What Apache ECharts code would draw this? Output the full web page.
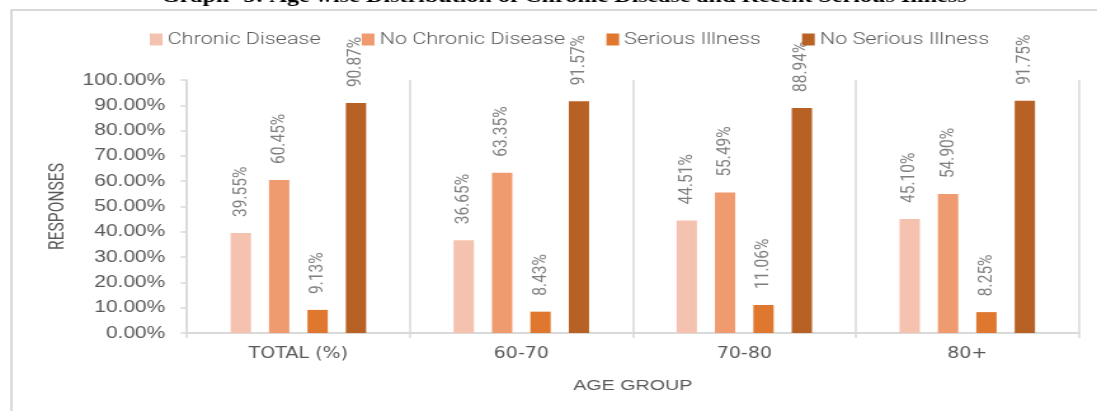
<!DOCTYPE html>
<html>
<head>
<meta charset="utf-8">
<script src="https://cdn.jsdelivr.net/npm/echarts@6/dist/echarts.min.js"></script>
<style>
  html, body { margin: 0; padding: 0; background: #fff; overflow: hidden; }
  /* the source picture is a horizontally stretched Excel chart */
  #chartBar { width: 864px; height: 411px; transform: scaleX(1.2697); transform-origin: 0 0; }
</style>
</head>
<body>
<div id="chartBar"></div>
<script>
const titleText = 'Graph- 5: Age wise Distribution of Chronic Disease and Recent Serious Illness'
const ageGroups = ['TOTAL (%)', '60-70', '70-80', '80+']
const chronicDisease = [39.55, 36.65, 44.51, 45.10]
const noChronicDisease = [60.45, 63.35, 55.49, 54.90]
const seriousIllness = [9.13, 8.43, 11.06, 8.25]
const noSeriousIllness = [90.87, 91.57, 88.94, 91.75]
const seriesNames = ['Chronic Disease', 'No Chronic Disease', 'Serious Illness', 'No Serious Illness']
const seriesColors = ['#f4c2ae', '#f09a70', '#e0772e', '#b86125']

const gridColor = '#d9d9d9'

const chartDom = document.getElementById('chartBar')
const myChart = echarts.init(chartDom)

const makeSeries = (name, data, color) => ({
  name: name,
  type: 'bar',
  data: data,
  barWidth: 16,
  barGap: '89%',
  itemStyle: { color: color },
  label: {
    show: true,
    position: 'top',
    rotate: 90,
    align: 'left',
    verticalAlign: 'middle',
    distance: 16,
    color: '#7f7f7f',
    fontFamily: 'Roboto, sans-serif',
    fontSize: 15.5,
    formatter: (p) => p.value.toFixed(2) + '%'
  }
})

let option = {
  animation: false,
  title: {
    text: titleText,
    left: 439,
    textAlign: 'center',
    top: -17,
    textStyle: {
      fontFamily: "'Liberation Serif', serif",
      fontWeight: 'bold',
      fontSize: 19,
      color: '#000'
    }
  },
  graphic: [
    {
      type: 'rect',
      shape: { x: 9, y: 10, width: 900, height: 450 },
      style: { fill: 'none', stroke: gridColor, lineWidth: 2 },
      silent: true
    }
  ],
  legend: {
    data: seriesNames,
    left: 113,
    top: 26,
    icon: 'rect',
    itemWidth: 10,
    itemHeight: 12,
    itemGap: 32.5,
    textStyle: {
      fontFamily: 'Roboto, sans-serif',
      fontWeight: 300,
      fontSize: 17,
      color: '#595959',
      padding: [0, 0, 0, -1]
    }
  },
  grid: {
    left: 147.2,
    right: 14.4,
    top: 80,
    bottom: 78,
    containLabel: false
  },
  xAxis: {
    type: 'category',
    data: ageGroups,
    name: 'AGE GROUP',
    nameLocation: 'middle',
    nameGap: 45,
    nameTextStyle: {
      fontFamily: "'Liberation Sans', sans-serif",
      fontSize: 15.5,
      color: '#595959'
    },
    axisLine: { lineStyle: { color: gridColor, width: 2 } },
    axisTick: { show: true, length: 5, lineStyle: { color: gridColor, width: 1.5 } },
    splitLine: { show: true, lineStyle: { color: gridColor, width: 1.5 } },
    axisLabel: {
      margin: 14,
      fontFamily: "'DejaVu Sans', sans-serif",
      fontSize: 15,
      color: '#595959'
    }
  },
  yAxis: {
    type: 'value',
    min: 0,
    max: 100,
    interval: 10,
    name: 'RESPONSES',
    nameLocation: 'middle',
    nameGap: 88,
    nameRotate: 90,
    nameTextStyle: {
      fontFamily: 'Roboto, sans-serif',
      fontSize: 15.6,
      color: '#595959'
    },
    axisLine: { show: true, lineStyle: { color: gridColor, width: 1.5 } },
    axisTick: { show: true, length: 5, lineStyle: { color: gridColor, width: 1.5 } },
    splitLine: { show: false },
    axisLabel: {
      margin: 17,
      fontFamily: "'Liberation Sans', sans-serif",
      fontSize: 16.5,
      color: '#595959',
      formatter: (v) => v.toFixed(2) + '%'
    }
  },
  series: [
    makeSeries(seriesNames[0], chronicDisease, seriesColors[0]),
    makeSeries(seriesNames[1], noChronicDisease, seriesColors[1]),
    makeSeries(seriesNames[2], seriousIllness, seriesColors[2]),
    makeSeries(seriesNames[3], noSeriousIllness, seriesColors[3])
  ]
}

option && myChart.setOption(option)
</script>
</body>
</html>
